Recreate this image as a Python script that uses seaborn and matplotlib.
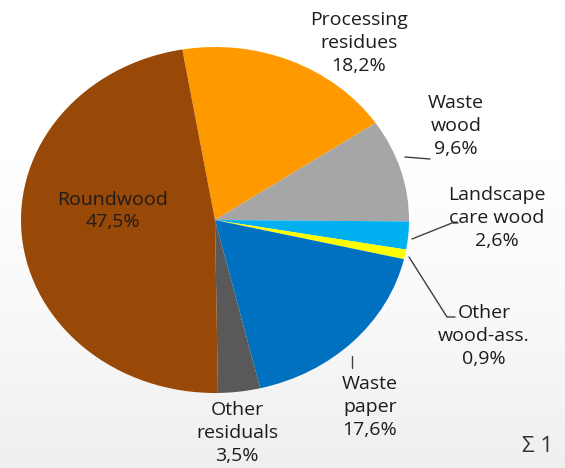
import numpy as np
import matplotlib
matplotlib.use("Agg")
import matplotlib.pyplot as plt
import seaborn as sns
from matplotlib.colors import LinearSegmentedColormap

categories = ["Processing\nresidues", "Waste\nwood", "Landscape\ncare wood",
              "Other\nwood-ass.", "Waste\npaper", "Other\nresiduals", "Roundwood"]
shares = [18.2, 9.6, 2.6, 0.9, 17.6, 3.5, 47.5]
pct_labels = ["18,2%", "9,6%", "2,6%", "0,9%", "17,6%", "3,5%", "47,5%"]
colors = ["#FF9900", "#A6A6A6", "#00B0F0", "#FFFF00", "#0070C0", "#595959", "#984807"]

sns.set_style("white")
plt.rcParams['font.family'] = ['Open Sans', 'DejaVu Sans']

W, H = 565, 468
fig = plt.figure(figsize=(W / 100, H / 100), dpi=100)

# background gradient
bg = fig.add_axes([0, 0, 1, 1])
grad = np.linspace(0, 1, 256).reshape(-1, 1)
cm = LinearSegmentedColormap.from_list("bg", ["#ffffff", "#ffffff", "#f9f9f9", "#efefef"])
bg.imshow(grad, aspect="auto", cmap=cm, extent=[0, 1, 0, 1], origin="upper")
bg.axis("off")

# pie axes (stretched ellipse)
cx, cy, rx, ry = 215, 220, 194, 173
ax = fig.add_axes([(cx - rx) / W, (H - cy - ry) / H, 2 * rx / W, 2 * ry / H])
ax.pie(shares, colors=sns.color_palette(colors), startangle=99.7, counterclock=False,
       wedgeprops=dict(linewidth=0), radius=1)
ax.set_aspect("auto")
ax.set_xlim(-1, 1)
ax.set_ylim(-1, 1)
ax.axis("off")

# overlay for labels in pixel coordinates
ov = fig.add_axes([0, 0, 1, 1])
ov.set_xlim(0, W)
ov.set_ylim(H, 0)
ov.axis("off")

txt_color = "#1c1c1c"
label_pos = [(359, 43), (456, 126), (497, 218), (484, 336), (370, 407), (237, 433), (113, 211)]
for cat, pct, (x, y) in zip(categories, pct_labels, label_pos):
    ov.text(x, y, f"{cat}\n{pct}", ha="center", va="center", fontsize=14,
            color=txt_color, linespacing=1.33)

lc = "#404040"
ov.plot([412, 452, 458], [239, 223, 223], color=lc, lw=1)
ov.plot([409, 447, 455], [257, 317, 317], color=lc, lw=1)
ov.plot([352, 352], [356, 368], color=lc, lw=1)
ov.plot([405, 430], [157, 159], color=lc, lw=1)

ov.text(522, 446, "Σ 1", ha="left", va="center", fontsize=16, color="#333333")

fig.savefig("out.png", dpi=100)
